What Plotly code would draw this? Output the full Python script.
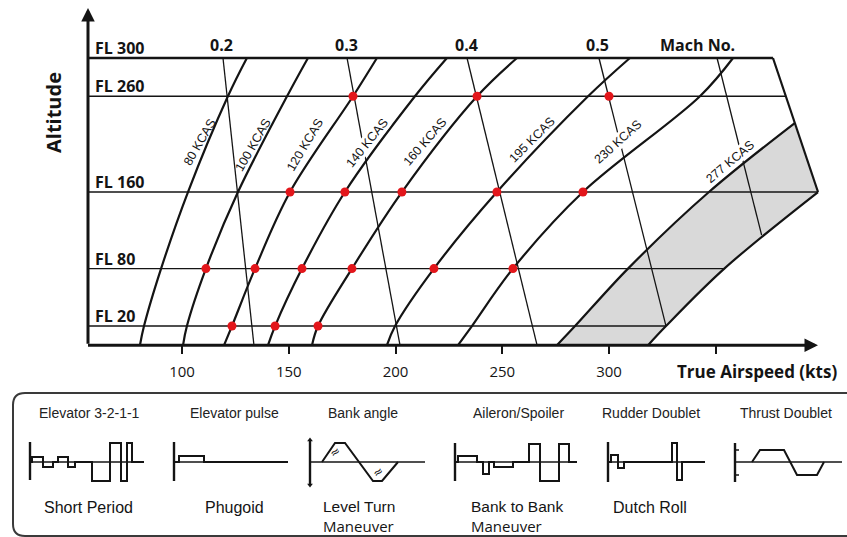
import plotly.graph_objects as go

# ---------------------------------------------------------------------------
# Flight-test envelope: constant-KCAS curves, Mach lines, flight levels
# ---------------------------------------------------------------------------

# Flight levels (hundreds of ft) at which each KCAS curve is sampled
curve_fl = [0, 20, 80, 160, 260, 300]

# True airspeed (kts) of each constant calibrated airspeed curve at curve_fl
tas_80_kcas = [80.3, 82.2, 90.2, 102.8, 121.5, 130.4]
tas_100_kcas = [100.5, 102.3, 111.2, 126.2, 149.2, 159.0]
tas_120_kcas = [119.7, 123.4, 134.2, 150.6, 180.1, 191.3]
tas_140_kcas = [140.3, 143.6, 156.2, 176.3, 209.1, 224.1]
tas_160_kcas = [160.9, 163.7, 179.6, 203.0, 238.2, 256.9]
tas_195_kcas = [196.0, 199.8, 218.0, 247.5, 290.2, 309.8]
tas_230_kcas = [229.3, 235.8, 255.0, 287.8, 342.6, 358.1]

# 277 KCAS ends where it meets the high-speed boundary
fl_277_kcas = [0, 20, 80, 160, 232]
tas_277_kcas = [275.6, 284.1, 308.9, 346.8, 387.0]

kcas_labels = ["80 KCAS", "100 KCAS", "120 KCAS", "140 KCAS",
               "160 KCAS", "195 KCAS", "230 KCAS", "277 KCAS"]

# High-speed boundary: max-speed curve (lower part) and Mach limit (upper part)
env_speed_fl = [0, 20, 80, 160]
env_speed_tas = [318.3, 326.7, 354.0, 397.9]
env_mach_fl = [160, 300]
env_mach_tas = [397.9, 376.8]

# Constant Mach lines: TAS at the top (FL 300) and at the lower end
mach_labels = ["0.2", "0.3", "0.4", "0.5", ""]
mach_top_tas = [119.2, 177.3, 233.5, 295.3, 350.6]
mach_end_fl = [0, 0, 0, 20, 115]
mach_end_tas = [133.7, 202.1, 266.3, 326.7, 371.5]

# Flight levels drawn across the envelope and the TAS where each one ends
fl_levels = [300, 260, 160, 80, 20]
fl_labels = ["FL 300", "FL 260", "FL 160", "FL 80", "FL 20"]
fl_end_tas = [376.8, 382.8, 397.9, 354.0, 326.7]

# Test points (flight level, TAS)
test_fl = [260, 260, 260,
           160, 160, 160, 160, 160,
           80, 80, 80, 80, 80, 80,
           20, 20, 20]
test_tas = [180.1, 238.2, 300.0,
            150.6, 176.3, 203.0, 247.5, 287.8,
            111.2, 134.2, 156.2, 179.6, 218.0, 255.0,
            123.4, 143.6, 163.7]

# Airspeed axis ticks
tas_ticks = [100, 150, 200, 250, 300, 350]
tas_tick_text = ["100", "150", "200", "250", "300", ""]

# ---------------------------------------------------------------------------
# Control input shapes (time units, amplitude units)
# ---------------------------------------------------------------------------
signal_titles = ["Elevator 3-2-1-1", "Elevator pulse", "Bank angle",
                 "Aileron/Spoiler", "Rudder Doublet", "Thrust Doublet"]

elev_3211_t = [0, 2, 13, 23, 28, 38, 45, 62, 80, 91, 97, 102, 114]
elev_3211_a = [0, 5, -5, 0, 5, -5, 0, -19, 19, -19, 19, 0, 0]

elev_pulse_t = [0, 5, 30, 114]
elev_pulse_a = [0, 6, 0, 0]

bank_t = [12, 25, 35, 63, 72, 88]
bank_a = [0, 19, 19, -19, -19, 0]

aileron_t = [0, 3, 22, 28, 34, 39, 58, 74, 85, 104, 114, 122]
aileron_a = [0, 6, 0, -12, 0, -5, 0, 18, -19, 18, 0, 0]

rudder_t = [0, 3, 10, 16, 64, 69, 74, 97]
rudder_a = [0, 7, -6, 0, 19, -18, 0, 0]

thrust_t = [17, 25, 49, 62, 82, 89]
thrust_a = [0, 12, 12, -13, -13, 0]

signal_span = [114, 114, 115, 122, 97, 107]
bar_top = [20, 20, 22, 19, 20, 19]
bar_bottom = [-18, -19, -23, -19, -20, -20]

# ---------------------------------------------------------------------------
# Page geometry
# ---------------------------------------------------------------------------
W, H = 847, 537
PX_PER_KT = 2.135
X100 = 182.0            # pixel column of 100 kts
PX_PER_FL = 0.9574
Y_FL0 = 345.2           # pixel row of FL 0

x_range = [100 - X100 / PX_PER_KT, 100 + (W - X100) / PX_PER_KT]
y_range = [(Y_FL0 - H) / PX_PER_FL, Y_FL0 / PX_PER_FL]
axis_tas = 100 + (88 - X100) / PX_PER_KT      # airspeed at the altitude axis
ink = "#141414"

fig = go.Figure()

# Shaded high-speed band between 277 KCAS and the speed boundary
fig.add_trace(go.Scatter(x=tas_277_kcas, y=fl_277_kcas, mode="lines",
                         line=dict(color=ink, width=2.2, shape="spline"),
                         hoverinfo="skip"))
fig.add_trace(go.Scatter(x=env_speed_tas, y=env_speed_fl, mode="lines",
                         line=dict(color=ink, width=2.2, shape="spline"),
                         fill="tonextx", fillcolor="#d9d9d9",
                         hoverinfo="skip"))
fig.add_trace(go.Scatter(x=env_mach_tas, y=env_mach_fl, mode="lines",
                         line=dict(color=ink, width=2.2), hoverinfo="skip"))

# Flight level lines
for fl, end, in zip(fl_levels, fl_end_tas):
    fig.add_trace(go.Scatter(x=[axis_tas, end], y=[fl, fl], mode="lines",
                             line=dict(color=ink, width=2.6 if fl == 300 else 1.4),
                             hoverinfo="skip"))

# Mach lines
for top, efl, etas in zip(mach_top_tas, mach_end_fl, mach_end_tas):
    fig.add_trace(go.Scatter(x=[top, etas], y=[300, efl], mode="lines",
                             line=dict(color=ink, width=1.3), hoverinfo="skip"))

# Constant KCAS curves
for tas in [tas_80_kcas, tas_100_kcas, tas_120_kcas, tas_140_kcas,
            tas_160_kcas, tas_195_kcas, tas_230_kcas]:
    fig.add_trace(go.Scatter(x=tas, y=curve_fl, mode="lines",
                             line=dict(color=ink, width=2.2, shape="spline"),
                             hoverinfo="skip"))

# Test points
fig.add_trace(go.Scatter(x=test_tas, y=test_fl, mode="markers",
                         marker=dict(color="#e3161b", size=9, line=dict(width=0)),
                         hoverinfo="skip"))

annotations = []

# Axes drawn as arrows
annotations.append(dict(x=axis_tas, y=352.2, ax=axis_tas, ay=0, xref="x", yref="y",
                        axref="x", ayref="y", text="", showarrow=True,
                        arrowhead=2, arrowsize=0.9, arrowwidth=3, arrowcolor=ink,
                        standoff=0, startstandoff=0))
annotations.append(dict(x=397.9, y=0, ax=axis_tas - 0.7, ay=0, xref="x", yref="y",
                        axref="x", ayref="y", text="", showarrow=True,
                        arrowhead=2, arrowsize=0.9, arrowwidth=3, arrowcolor=ink,
                        standoff=0, startstandoff=0))

# Flight level labels
for fl, lab in zip(fl_levels, fl_labels):
    annotations.append(dict(x=93 / W, xref="paper", y=fl, yref="y", yshift=10,
                            xanchor="left", yanchor="middle", showarrow=False,
                            text=f"<b>{lab}</b>",
                            font=dict(family="Open Sans", size=16, color=ink)))

# Mach labels along the top
for top, lab in zip(mach_top_tas, mach_labels):
    if lab:
        annotations.append(dict(x=top, y=300, xref="x", yref="y", yshift=13, xshift=-1,
                                xanchor="center", yanchor="middle",
                                showarrow=False, text=f"<b>{lab}</b>",
                                font=dict(family="Open Sans", size=16, color=ink)))
annotations.append(dict(x=341.6, y=300, xref="x", yref="y", yshift=13,
                        xanchor="center", yanchor="middle", showarrow=False,
                        text="<b>Mach No.</b>",
                        font=dict(family="Open Sans", size=16, color=ink)))

# KCAS labels placed alongside their curves; labels crossed by a Mach line mask it
label_pos = [(108.4, 212.2, -60), (133.3, 209.1, -60), (157.6, 209.1, -59),
             (186.7, 211.2, -51), (213.8, 212.2, -49), (263.9, 214.3, -45),
             (304.2, 212.2, -42), (356.7, 191.4, -40)]
masked = {"140 KCAS", "230 KCAS", "277 KCAS"}
for lab, (lx, ly, ang) in zip(kcas_labels, label_pos):
    annotations.append(dict(x=lx, y=ly, xref="x", yref="y", showarrow=False,
                            xanchor="center", yanchor="middle",
                            text=lab, textangle=ang,
                            bgcolor="white" if lab in masked else "rgba(0,0,0,0)",
                            borderpad=0,
                            font=dict(family="Liberation Sans", size=12.5, color=ink)))

# Axis titles
annotations.append(dict(x=54 / W, y=(H - 113) / H, xref="paper", yref="paper",
                        xanchor="center", yanchor="middle",
                        showarrow=False, text="<b>Altitude</b>", textangle=-90,
                        font=dict(family="Open Sans", size=20, color=ink)))
annotations.append(dict(x=839 / W, y=(H - 372) / H, xref="paper", yref="paper",
                        xanchor="right", yanchor="middle", showarrow=False,
                        text="<b>True Airspeed (kts)</b>",
                        font=dict(family="Open Sans", size=17, color=ink)))

# ---------------------------------------------------------------------------
# Control input panel (drawn on a pixel canvas)
# ---------------------------------------------------------------------------
origins = [(30, 462), (174, 462), (310, 462), (455, 462), (608, 462), (735, 462)]
signals = [(elev_3211_t, elev_3211_a, "hv"), (elev_pulse_t, elev_pulse_a, "hv"),
           (bank_t, bank_a, "linear"), (aileron_t, aileron_a, "hv"),
           (rudder_t, rudder_a, "hv"), (thrust_t, thrust_a, "linear")]

for (ox, oy), (ts, vs, shape), span, top, bot in zip(origins, signals, signal_span,
                                                     bar_top, bar_bottom):
    # time axis
    fig.add_trace(go.Scatter(x=[ox, ox + span], y=[oy, oy], mode="lines",
                             xaxis="x2", yaxis="y2",
                             line=dict(color=ink, width=1.4), hoverinfo="skip"))
    # amplitude axis
    fig.add_trace(go.Scatter(x=[ox, ox], y=[oy - top, oy - bot], mode="lines",
                             xaxis="x2", yaxis="y2",
                             line=dict(color=ink, width=2.4), hoverinfo="skip"))
    # input shape
    fig.add_trace(go.Scatter(x=[ox + t for t in ts], y=[oy - v for v in vs],
                             mode="lines", xaxis="x2", yaxis="y2",
                             line=dict(color=ink, width=2.0, shape=shape),
                             hoverinfo="skip"))

# arrow tips on the bank angle axis
bx, by = origins[2]
fig.add_trace(go.Scatter(x=[bx, bx], y=[by - bar_top[2], by - bar_bottom[2]],
                         mode="markers", xaxis="x2", yaxis="y2",
                         marker=dict(symbol=["triangle-up", "triangle-down"],
                                     size=5, color=ink), hoverinfo="skip"))
# level marks on the thrust axis
tx, ty = origins[5]
fig.add_trace(go.Scatter(x=[tx, tx + 4, None, tx, tx + 4],
                         y=[ty - 12, ty - 12, None, ty + 13, ty + 13],
                         mode="lines", xaxis="x2", yaxis="y2",
                         line=dict(color=ink, width=1.5), hoverinfo="skip"))

for (sx, sy) in [(bx + 25, by - 10), (bx + 68, by + 10)]:
    annotations.append(dict(x=sx, y=sy, xref="x2", yref="y2", showarrow=False,
                            text="≈", textangle=-35,
                            font=dict(family="DejaVu Sans", size=12, color=ink)))

title_x = [89, 234, 363, 518, 651, 786]
for tx_, lab in zip(title_x, signal_titles):
    annotations.append(dict(x=tx_, y=413, xref="x2", yref="y2", showarrow=False,
                            text=lab,
                            font=dict(family="Liberation Sans", size=14,
                                      color="#222")))

mode_font = dict(family="Liberation Sans", size=16, color=ink)
for cx, lab in [(88, "Short Period"), (234, "Phugoid"), (650, "Dutch Roll")]:
    annotations.append(dict(x=cx, y=507, xref="x2", yref="y2", showarrow=False,
                            text=lab, font=mode_font))
# two-line manoeuvre names, left aligned, sitting on the bottom edge
for lx, first in [(322, "Level Turn"), (470, "Bank to Bank")]:
    annotations.append(dict(
        x=lx, y=H - 0.5, xref="x2", yref="y2", xanchor="left", yanchor="bottom",
        align="left", showarrow=False, borderpad=0,
        text=(f"{first}<br><span style='font-family:Open Sans;font-size:15px'>"
              "Maneuver</span>"),
        font=dict(family="Liberation Sans", size=15.5, color=ink)))

box = ("M 25,393 L 870,393 L 870,536 L 25,536 "
       "Q 13,536 13,524 L 13,405 Q 13,393 25,393 Z")

fig.update_layout(
    width=W, height=H, margin=dict(l=0, r=0, t=0, b=0),
    paper_bgcolor="white", plot_bgcolor="rgba(0,0,0,0)",
    showlegend=False,
    font=dict(family="Open Sans", color=ink),
    xaxis=dict(domain=[0, 1], range=x_range, anchor="free",
               position=(H - Y_FL0) / H, side="bottom",
               tickvals=tas_ticks, ticktext=tas_tick_text,
               ticks="outside", ticklen=8, tickwidth=1.5, tickcolor=ink,
               tickfont=dict(family="Open Sans", size=15, color=ink),
               ticklabelstandoff=5,
               showgrid=False, zeroline=False, showline=False, fixedrange=True),
    yaxis=dict(domain=[0, 1], range=y_range, visible=False, fixedrange=True),
    xaxis2=dict(domain=[0, 1], range=[0, W], visible=False, anchor="y2",
                fixedrange=True),
    yaxis2=dict(domain=[0, 1], range=[H, 0], visible=False, anchor="x2",
                fixedrange=True),
    shapes=[dict(type="path", path=box, xref="x2", yref="y2",
                 line=dict(color="#3a3a3a", width=2), layer="below")],
    annotations=annotations,
)

fig.write_html("out.html")
